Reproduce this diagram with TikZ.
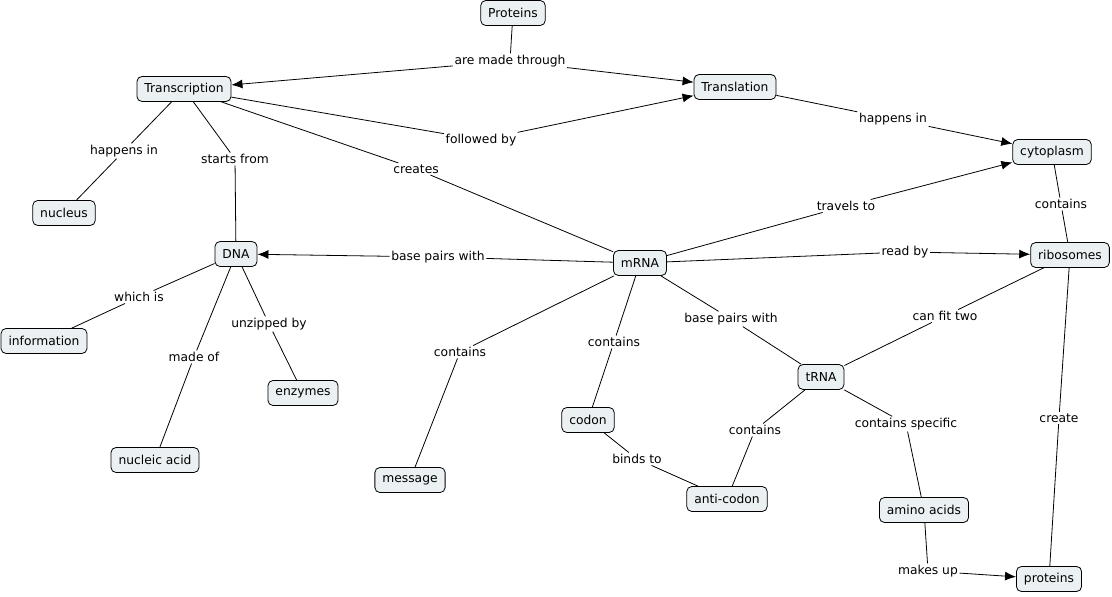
\documentclass[tikz,border=0pt]{standalone}
\usepackage{fontspec}
\setmainfont{DejaVu Sans}
\usetikzlibrary{arrows.meta}
\definecolor{cfill}{HTML}{EBF1F3}
\begin{document}
\begin{tikzpicture}[x=1pt,y=-1pt,
  concept/.style={draw=black,line width=0.8pt,fill=cfill,rounded corners=5pt,minimum height=25pt,inner xsep=7.5pt,font=\fontsize{12.3}{14}\selectfont},
  lbl/.style={inner sep=1.5pt,font=\fontsize{12.3}{14}\selectfont},
  link/.style={line width=0.8pt,black},
  arr/.style={link,-{Latex[length=11pt,width=9pt]}}]
\useasboundingbox (0,0) rectangle (1112,597);
% concepts
\node[concept] (proteinsT) at (513,13) {Proteins};
\node[concept] (transcription) at (184,89) {Transcription};
\node[concept] (translation) at (735,87) {Translation};
\node[concept] (cytoplasm) at (1052,152) {cytoplasm};
\node[concept] (nucleus) at (64,213) {nucleus};
\node[concept] (dna) at (236,254) {DNA};
\node[concept] (mrna) at (640,263) {mRNA};
\node[concept] (ribosomes) at (1070,255) {ribosomes};
\node[concept] (information) at (44,341) {information};
\node[concept] (enzymes) at (303,393) {enzymes};
\node[concept] (trna) at (821,377) {tRNA};
\node[concept] (codon) at (588,420) {codon};
\node[concept] (nucleic) at (155,460) {nucleic acid};
\node[concept] (message) at (410,480) {message};
\node[concept] (anticodon) at (727,499) {anti-codon};
\node[concept] (amino) at (924,510) {amino acids};
\node[concept] (proteinsB) at (1049,579) {proteins};
% link labels
\node[lbl] (l1) at (510,61) {are made through};
\node[lbl] (l2) at (481,140) {followed by};
\node[lbl] (l3) at (893,119) {happens in};
\node[lbl] (l4) at (124,151) {happens in};
\node[lbl] (l5) at (235,159) {starts from};
\node[lbl] (l6) at (416,169) {creates};
\node[lbl] (l7) at (846,206) {travels to};
\node[lbl] (l8) at (1061,204) {contains};
\node[lbl] (l9) at (438,257) {base pairs with};
\node[lbl] (l10) at (905,252) {read by};
\node[lbl] (l11) at (139,297) {which is};
\node[lbl] (l12) at (269,324) {unzipped by};
\node[lbl] (l13) at (731,319) {base pairs with};
\node[lbl] (l14) at (945,316) {can fit two};
\node[lbl] (l15) at (194,357) {made of};
\node[lbl] (l16) at (460,352) {contains};
\node[lbl] (l17) at (614,342) {contains};
\node[lbl] (l18) at (755,430) {contains};
\node[lbl] (l19) at (906,424) {contains specific};
\node[lbl] (l20) at (1059,418) {create};
\node[lbl] (l21) at (637,459) {binds to};
\node[lbl] (l22) at (928,571) {makes up};
% connectors
\draw[link] (proteinsT) -- (l1);
\draw[arr] (l1) -- (transcription);
\draw[arr] (l1) -- (translation);
\draw[link] (transcription) -- (l2);
\draw[arr] (l2) -- (translation);
\draw[link] (translation) -- (l3);
\draw[arr] (l3) -- (cytoplasm);
\draw[link] (transcription) -- (l4);
\draw[link] (l4) -- (nucleus);
\draw[link] (transcription) -- (l5);
\draw[link] (l5) -- (dna);
\draw[link] (transcription) -- (l6);
\draw[link] (l6) -- (mrna);
\draw[link] (mrna) -- (l7);
\draw[arr] (l7) -- (cytoplasm);
\draw[link] (cytoplasm) -- (l8);
\draw[link] (l8) -- (ribosomes);
\draw[link] (mrna) -- (l9);
\draw[arr] (l9) -- (dna);
\draw[link] (mrna) -- (l10);
\draw[arr] (l10) -- (ribosomes);
\draw[link] (dna) -- (l11);
\draw[link] (l11) -- (information);
\draw[link] (dna) -- (l12);
\draw[link] (l12) -- (enzymes);
\draw[link] (mrna) -- (l13);
\draw[link] (l13) -- (trna);
\draw[link] (ribosomes) -- (l14);
\draw[link] (l14) -- (trna);
\draw[link] (dna) -- (l15);
\draw[link] (l15) -- (nucleic);
\draw[link] (mrna) -- (l16);
\draw[link] (l16) -- (message);
\draw[link] (mrna) -- (l17);
\draw[link] (l17) -- (codon);
\draw[link] (trna) -- (l18);
\draw[link] (l18) -- (anticodon);
\draw[link] (trna) -- (l19);
\draw[link] (l19) -- (amino);
\draw[link] (ribosomes) -- (l20);
\draw[link] (l20) -- (proteinsB);
\draw[link] (codon) -- (l21);
\draw[link] (l21) -- (anticodon);
\draw[link] (amino) -- (l22);
\draw[arr] (l22) -- (proteinsB);
\end{tikzpicture}
\end{document}
